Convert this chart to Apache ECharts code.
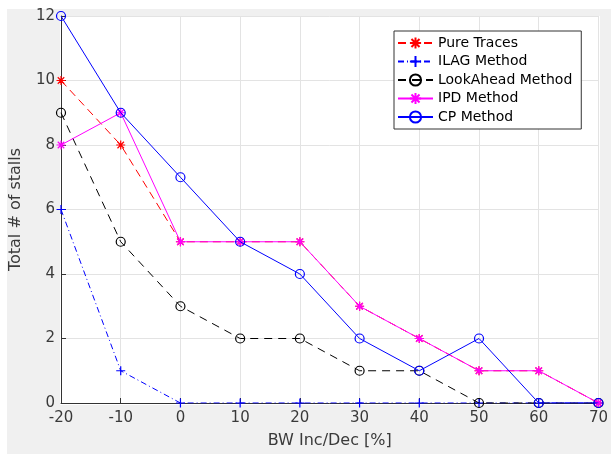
<!DOCTYPE html>
<html><head><meta charset="utf-8">
<script src="https://cdn.jsdelivr.net/npm/echarts@6/dist/echarts.min.js"></script>
<style>html,body{margin:0;padding:0;background:#fff}#c{width:611px;height:454px}</style>
</head><body><div id="c"></div>
<script>
const xValues = [-20, -10, 0, 10, 20, 30, 40, 50, 60, 70];
const pureTraces = [10, 8, 5, 5, 5, 3, 2, 1, 1, 0];
const ilag = [6, 1, 0, 0, 0, 0, 0, 0, 0, 0];
const lookAhead = [9, 5, 3, 2, 2, 1, 1, 0, 0, 0];
const ipd = [8, 9, 5, 5, 5, 3, 2, 1, 1, 0];
const cp = [12, 9, 7, 5, 4, 2, 1, 2, 0, 0];
const yTicks = [0, 2, 4, 6, 8, 10, 12];

const star = 'path://M0,-1L0,1M-1,0L1,0M-0.72,-0.72L0.72,0.72M-0.72,0.72L0.72,-0.72';
const plus = 'path://M0,-1L0,1M-1,0L1,0';
const pts = arr => xValues.map((x, i) => [x, arr[i]]);
const font = 'DejaVu Sans, sans-serif';
const txt = '#3a3a3a';

function ser(name, data, color, type, symbol, size, z) {
  return {
    name, type: 'line', data: pts(data), z,
    symbol, symbolSize: size, showAllSymbol: true,
    lineStyle: { color, width: 1, type },
    itemStyle: { color: symbol === 'circle' ? 'rgba(255,255,255,0)' : color, borderColor: color, borderWidth: 1.2 },
    emphasis: { disabled: true }, animation: false
  };
}

const chart = echarts.init(document.getElementById('c'));
chart.setOption({
  backgroundColor: '#fff',
  animation: false,
  graphic: [{ type: 'rect', shape: { x: 7, y: 9, width: 604, height: 445 }, style: { fill: '#f0f0f0' }, z: -10, silent: true },
            { type: 'rect', shape: { x: 60, y: 16, width: 540, height: 389 }, style: { fill: '#fff' }, z: -9, silent: true }],
  grid: { left: 60, right: 11, top: 16, bottom: 49 },
  xAxis: {
    type: 'value', min: -20, max: 70, interval: 10,
    name: 'BW Inc/Dec [%]', nameLocation: 'middle', nameGap: 30,
    nameTextStyle: { fontFamily: font, fontSize: 16, color: txt },
    axisLine: { show: true, onZero: false, lineStyle: { color: '#333', width: 1 } },
    axisTick: { show: true, inside: true, length: 5, lineStyle: { color: '#333' } },
    axisLabel: { fontFamily: font, fontSize: 15, color: txt, margin: 8 },
    splitLine: { show: true, lineStyle: { color: '#e3e3e3', width: 1 } }
  },
  yAxis: {
    type: 'value', min: 0, max: 12, interval: 2,
    name: 'Total # of stalls', nameLocation: 'middle', nameGap: 37,
    nameTextStyle: { fontFamily: font, fontSize: 16, color: txt },
    axisLine: { show: true, onZero: false, lineStyle: { color: '#333', width: 1 } },
    axisTick: { show: true, inside: true, length: 5, lineStyle: { color: '#333' } },
    axisLabel: { fontFamily: font, fontSize: 15, color: txt, margin: 6,
      formatter: v => yTicks.includes(v) ? String(v) : '' },
    splitLine: { show: true, lineStyle: { color: '#e3e3e3', width: 1 } }
  },
  legend: {
    orient: 'vertical', left: 394, top: 31,
    backgroundColor: '#fff', borderColor: '#333', borderWidth: 1,
    padding: [5, 9, 5, 3], itemGap: 4.5, itemWidth: 35, itemHeight: 14,
    textStyle: { fontFamily: font, fontSize: 14, color: '#000' },
    data: ['Pure Traces', 'ILAG Method', 'LookAhead Method', 'IPD Method', 'CP Method']
  },
  series: [
    ser('Pure Traces', pureTraces, '#ff0000', [8, 5], star, 9, 2),
    ser('ILAG Method', ilag, '#0000ff', [6, 3, 1, 3], plus, 9, 3),
    ser('LookAhead Method', lookAhead, '#000000', [8, 6], 'circle', 9, 4),
    ser('IPD Method', ipd, '#ff00ff', 'solid', star, 9, 5),
    ser('CP Method', cp, '#0000ff', 'solid', 'circle', 9, 6)
  ]
});
</script></body></html>
